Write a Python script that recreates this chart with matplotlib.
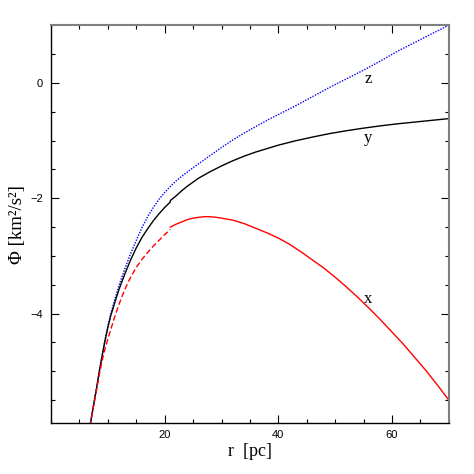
import matplotlib
matplotlib.use("Agg")
import matplotlib.pyplot as plt
from matplotlib.ticker import MultipleLocator, FixedLocator

# z curve (blue dotted)
r_z = [6.85, 7.5, 8.0, 8.5, 9.0, 9.5, 10.0, 10.5, 11.0, 11.5, 12.0, 13.0, 14.0, 15.0,
       16.0, 17.0, 18.0, 19.0, 20.0, 21.0, 22.0, 23.0, 24.0, 25.0, 26.0, 28.0, 30.0,
       32.0, 34.0, 36.0, 38.0, 40.0, 43.0, 46.0, 49.0, 52.0, 55.0, 58.0, 61.0, 64.0,
       67.0, 70.0]
phi_z = [-5.95, -5.58, -5.30, -5.00, -4.72, -4.46, -4.22, -4.01, -3.83, -3.66, -3.50,
         -3.22, -2.96, -2.73, -2.51, -2.32, -2.16, -2.02, -1.90, -1.795, -1.70, -1.62,
         -1.545, -1.47, -1.40, -1.26, -1.12, -0.99, -0.87, -0.76, -0.65, -0.55, -0.40,
         -0.24, -0.08, 0.07, 0.22, 0.38, 0.55, 0.70, 0.85, 1.0]

# y curve (black solid)
r_y = [6.85, 7.5, 8.0, 8.5, 9.0, 9.5, 10.0, 10.5, 11.0, 11.5, 12.0, 13.0, 14.0, 15.0,
       16.0, 17.0, 18.0, 19.0, 20.0, 20.95, 21.0, 22.0, 23.0, 24.0, 25.0, 26.0, 28.0,
       30.0, 32.0, 34.0, 36.0, 38.0, 40.0, 43.0, 46.0, 49.0, 52.0, 55.0, 58.0, 61.0,
       64.0, 67.0, 70.0]
phi_y = [-5.95, -5.58, -5.30, -5.00, -4.73, -4.47, -4.24, -4.04, -3.88, -3.72, -3.57,
         -3.31, -3.07, -2.86, -2.68, -2.53, -2.39, -2.27, -2.16, -2.07, -2.04, -1.96,
         -1.87, -1.79, -1.72, -1.65, -1.54, -1.44, -1.35, -1.27, -1.20, -1.14, -1.08,
         -1.005, -0.94, -0.88, -0.83, -0.785, -0.745, -0.71, -0.68, -0.65, -0.62]

# x curve (red): dashed inner part, solid outer part
r_x_in = [6.85, 7.5, 8.0, 8.5, 9.0, 9.5, 10.0, 10.5, 11.0, 11.5, 12.0, 12.5, 13.0,
          13.5, 14.0, 15.0, 16.0, 17.0, 18.0, 19.0, 20.0, 21.0]
phi_x_in = [-5.95, -5.60, -5.33, -5.06, -4.81, -4.61, -4.44, -4.28, -4.12, -3.97,
            -3.83, -3.70, -3.58, -3.47, -3.37, -3.20, -3.06, -2.94, -2.83, -2.73,
            -2.63, -2.54]
r_x_out = [21.0, 22.0, 23.0, 24.0, 25.0, 26.0, 27.0, 28.0, 29.0, 30.0, 32.0, 34.0,
           36.0, 38.0, 40.0, 42.0, 44.0, 46.0, 48.0, 50.0, 52.0, 54.0, 56.0, 58.0,
           60.0, 62.0, 64.0, 66.0, 68.0, 70.0]
phi_x_out = [-2.50, -2.45, -2.41, -2.37, -2.345, -2.33, -2.32, -2.32, -2.33, -2.345,
             -2.38, -2.44, -2.52, -2.60, -2.69, -2.80, -2.93, -3.07, -3.21, -3.37,
             -3.54, -3.72, -3.91, -4.11, -4.32, -4.53, -4.76, -4.99, -5.24, -5.50]

labels = ["z", "y", "x"]
label_r = [55.8, 55.8, 55.8]
label_phi = [0.06, -0.96, -3.74]

x_major = [20, 40, 60]
y_major = [-4, -2, 0]

fig = plt.figure(figsize=(4.74, 4.74), dpi=100)
ax = fig.add_axes([0.1076, 0.107, 0.8394, 0.840])

ax.plot(r_z, phi_z, color="blue", lw=1.0, ls=(0, (1, 1)))
ax.plot(r_y, phi_y, color="black", lw=1.0)
ax.plot(r_x_in, phi_x_in, color="red", lw=1.0, ls=(0, (4, 2)))
ax.plot(r_x_out, phi_x_out, color="red", lw=1.0)

for t, xr, yp in zip(labels, label_r, label_phi):
    ax.text(xr, yp, t, family="Liberation Serif", fontsize=12,
            ha="center", va="center")

ax.set_xlim(0, 70)
ax.set_ylim(-5.9, 1.0)
ax.xaxis.set_major_locator(FixedLocator(x_major))
ax.xaxis.set_minor_locator(MultipleLocator(5))
ax.yaxis.set_major_locator(FixedLocator(y_major))
ax.yaxis.set_minor_locator(MultipleLocator(0.5))
ax.tick_params(which="both", direction="in", top=True, right=True,
               labelsize=8, width=0.8)
ax.tick_params(which="major", length=6)
ax.tick_params(which="minor", length=3)
for lab in ax.get_xticklabels() + ax.get_yticklabels():
    lab.set_family("Liberation Sans")
ax.tick_params(axis="x", pad=5)
ax.tick_params(axis="y", pad=6)

for s in ["top", "right"]:
    ax.spines[s].set_color("#808080")
    ax.spines[s].set_linewidth(1.5)
for s in ["left", "bottom"]:
    ax.spines[s].set_linewidth(1.0)

ax.set_xlabel("r  [pc]", family="Liberation Serif", fontsize=13, labelpad=2)
ax.set_ylabel("Φ [km²/s²]", family="Liberation Serif", fontsize=13.5, labelpad=3)

fig.savefig("out.png", dpi=100)
